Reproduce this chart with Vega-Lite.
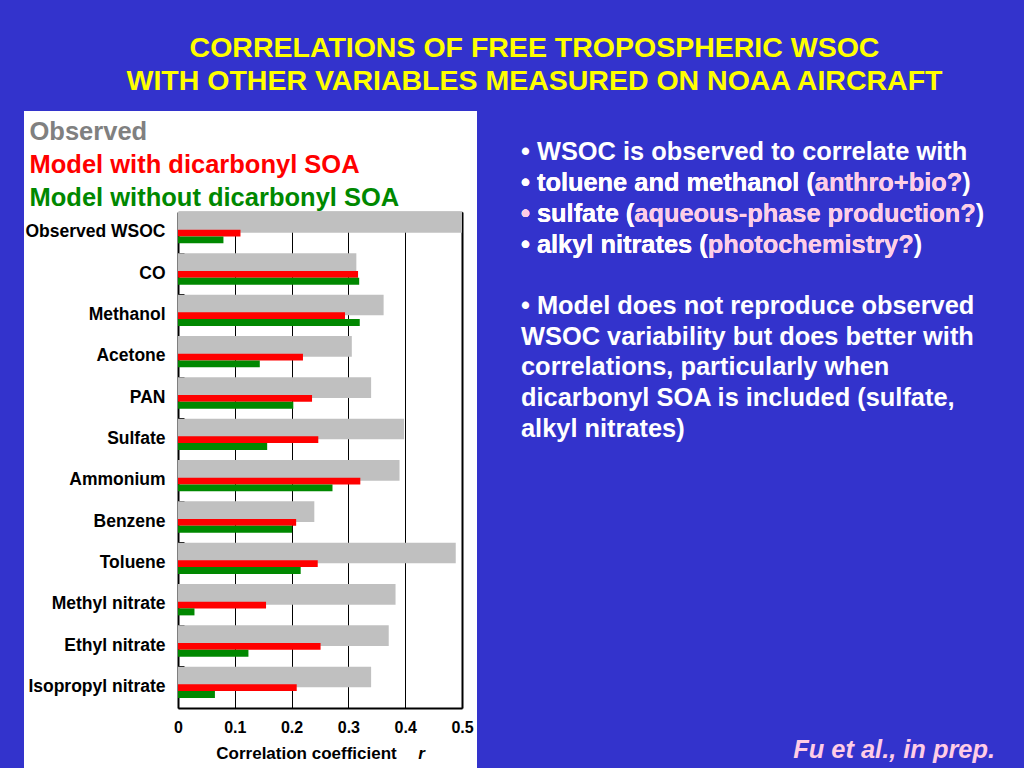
{
  "$schema": "https://vega.github.io/schema/vega-lite/v6.json",
  "background": "#3333cc",
  "padding": {"left": 24, "top": 33, "right": 29, "bottom": 0},
  "title": {
    "text": ["CORRELATIONS OF FREE TROPOSPHERIC WSOC", "WITH OTHER VARIABLES MEASURED ON NOAA AIRCRAFT"],
    "font": "Liberation Sans",
    "fontSize": 28.5,
    "fontWeight": "bold",
    "color": "#ffff00",
    "lineHeight": 33,
    "anchor": "middle",
    "dx": 25,
    "offset": 16
  },
  "spacing": 44,
  "resolve": {"scale": {"color": "independent"}, "legend": {"color": "independent"}},
  "hconcat": [
    {
      "width": 453,
      "height": 658,
      "view": {"fill": "white", "stroke": null},
      "data": {
        "values": [
          {"variable": "Observed WSOC", "series": "Observed", "r": 1.0},
          {"variable": "Observed WSOC", "series": "Model with dicarbonyl SOA", "r": 0.11},
          {"variable": "Observed WSOC", "series": "Model without dicarbonyl SOA", "r": 0.08},
          {"variable": "CO", "series": "Observed", "r": 0.314},
          {"variable": "CO", "series": "Model with dicarbonyl SOA", "r": 0.317},
          {"variable": "CO", "series": "Model without dicarbonyl SOA", "r": 0.319},
          {"variable": "Methanol", "series": "Observed", "r": 0.362},
          {"variable": "Methanol", "series": "Model with dicarbonyl SOA", "r": 0.294},
          {"variable": "Methanol", "series": "Model without dicarbonyl SOA", "r": 0.32},
          {"variable": "Acetone", "series": "Observed", "r": 0.306},
          {"variable": "Acetone", "series": "Model with dicarbonyl SOA", "r": 0.22},
          {"variable": "Acetone", "series": "Model without dicarbonyl SOA", "r": 0.144},
          {"variable": "PAN", "series": "Observed", "r": 0.34},
          {"variable": "PAN", "series": "Model with dicarbonyl SOA", "r": 0.236},
          {"variable": "PAN", "series": "Model without dicarbonyl SOA", "r": 0.203},
          {"variable": "Sulfate", "series": "Observed", "r": 0.398},
          {"variable": "Sulfate", "series": "Model with dicarbonyl SOA", "r": 0.247},
          {"variable": "Sulfate", "series": "Model without dicarbonyl SOA", "r": 0.157},
          {"variable": "Ammonium", "series": "Observed", "r": 0.39},
          {"variable": "Ammonium", "series": "Model with dicarbonyl SOA", "r": 0.321},
          {"variable": "Ammonium", "series": "Model without dicarbonyl SOA", "r": 0.272},
          {"variable": "Benzene", "series": "Observed", "r": 0.24},
          {"variable": "Benzene", "series": "Model with dicarbonyl SOA", "r": 0.208},
          {"variable": "Benzene", "series": "Model without dicarbonyl SOA", "r": 0.201},
          {"variable": "Toluene", "series": "Observed", "r": 0.489},
          {"variable": "Toluene", "series": "Model with dicarbonyl SOA", "r": 0.246},
          {"variable": "Toluene", "series": "Model without dicarbonyl SOA", "r": 0.216},
          {"variable": "Methyl nitrate", "series": "Observed", "r": 0.383},
          {"variable": "Methyl nitrate", "series": "Model with dicarbonyl SOA", "r": 0.155},
          {"variable": "Methyl nitrate", "series": "Model without dicarbonyl SOA", "r": 0.029},
          {"variable": "Ethyl nitrate", "series": "Observed", "r": 0.371},
          {"variable": "Ethyl nitrate", "series": "Model with dicarbonyl SOA", "r": 0.251},
          {"variable": "Ethyl nitrate", "series": "Model without dicarbonyl SOA", "r": 0.124},
          {"variable": "Isopropyl nitrate", "series": "Observed", "r": 0.34},
          {"variable": "Isopropyl nitrate", "series": "Model with dicarbonyl SOA", "r": 0.209},
          {"variable": "Isopropyl nitrate", "series": "Model without dicarbonyl SOA", "r": 0.065}
        ]
      },
      "encoding": {
        "color": {
          "field": "series",
          "type": "nominal",
          "scale": {
            "domain": ["Observed", "Model with dicarbonyl SOA", "Model without dicarbonyl SOA"],
            "range": ["#c0c0c0", "#ff0000", "#008800"]
          },
          "legend": {
            "title": null,
            "orient": "top-left",
            "offset": 8,
            "padding": 0,
            "symbolSize": 0,
            "symbolOpacity": 0,
            "symbolStrokeWidth": 0,
            "labelOffset": -28,
            "rowPadding": 6,
            "labelFont": "Liberation Sans",
            "labelFontSize": 25.5,
            "labelFontWeight": "bold",
            "labelLimit": 0,
            "labelColor": {"expr": "datum.label == 'Observed' ? '#808080' : datum.label == 'Model with dicarbonyl SOA' ? '#ff0000' : '#008800'"}
          }
        }
      },
      "layer": [
        {
          "transform": [{"filter": "datum.series == 'Observed'"}],
          "mark": {"type": "bar"},
          "encoding": {
            "x": {
              "field": "r",
              "type": "quantitative",
              "scale": {"domain": [0, 0.5], "range": [154, 438], "clamp": true, "nice": false, "zero": true},
              "axis": {
                "orient": "bottom",
                "offset": -61,
                "values": [0, 0.1, 0.2, 0.3, 0.4, 0.5],
                "format": "~g",
                "labelFont": "Liberation Sans",
                "labelFontSize": 16,
                "labelFontWeight": "bold",
                "labelColor": "#000000",
                "labelPadding": 11,
                "labelFlush": false,
                "ticks": false,
                "domainColor": "#000000",
                "domainWidth": 2,
                "grid": false,
                "title": "Correlation coefficient",
                "titleFont": "Liberation Sans",
                "titleFontSize": 17,
                "titleFontWeight": "bold",
                "titleColor": "#000000",
                "titleX": 282,
                "titleY": 50,
                "titleAlign": "center",
                "titleBaseline": "alphabetic"
              }
            },
            "y": {
              "field": "variable",
              "type": "nominal",
              "sort": null,
              "scale": {
                "type": "band",
                "domain": ["Observed WSOC", "CO", "Methanol", "Acetone", "PAN", "Sulfate", "Ammonium", "Benzene", "Toluene", "Methyl nitrate", "Ethyl nitrate", "Isopropyl nitrate"],
                "range": [101, 597],
                "paddingInner": 0.5,
                "paddingOuter": 0.25,
                "align": 0,
                "round": false
              },
              "axis": {
                "orient": "left",
                "offset": -154,
                "title": null,
                "bandPosition": 0,
                "labelOffset": 10,
                "labelFont": "Liberation Sans",
                "labelFontSize": 17.5,
                "labelFontWeight": "bold",
                "labelColor": "#000000",
                "labelPadding": 19,
                "labelLimit": 0,
                "tickSize": -6,
                "tickColor": "#000000",
                "tickWidth": 1,
                "domainColor": "#000000",
                "domainWidth": 2,
                "grid": false
              }
            }
          }
        },
        {
          "transform": [{"filter": "datum.series == 'Model with dicarbonyl SOA'"}],
          "mark": {"type": "bar"},
          "encoding": {
            "x": {
              "field": "r",
              "type": "quantitative",
              "axis": {
                "orient": "bottom",
                "offset": -61,
                "domain": false,
                "labels": false,
                "ticks": false,
                "grid": false,
                "title": "r",
                "titleFont": "Liberation Sans",
                "titleFontSize": 17,
                "titleFontWeight": "bold",
                "titleFontStyle": "italic",
                "titleColor": "#000000",
                "titleX": 397,
                "titleY": 50,
                "titleAlign": "center",
                "titleBaseline": "alphabetic"
              }
            },
            "y": {
              "field": "variable",
              "type": "nominal",
              "sort": null,
              "scale": {
                "type": "band",
                "domain": ["Observed WSOC", "CO", "Methanol", "Acetone", "PAN", "Sulfate", "Ammonium", "Benzene", "Toluene", "Methyl nitrate", "Ethyl nitrate", "Isopropyl nitrate"],
                "range": [101, 597],
                "paddingInner": 0.838,
                "paddingOuter": 0.419,
                "align": 0.511,
                "round": false
              },
              "axis": {
                "orient": "right",
                "offset": -15,
                "title": null,
                "labels": false,
                "ticks": false,
                "grid": false,
                "domainColor": "#000000",
                "domainWidth": 2
              }
            }
          }
        },
        {
          "transform": [{"filter": "datum.series == 'Model without dicarbonyl SOA'"}],
          "mark": {"type": "bar"},
          "encoding": {
            "x": {
              "field": "r",
              "type": "quantitative",
              "axis": {
                "orient": "top",
                "offset": -101,
                "values": [0, 0.1, 0.2, 0.3, 0.4, 0.5],
                "labels": false,
                "ticks": false,
                "grid": true,
                "gridColor": "#000000",
                "gridWidth": 1,
                "gridOpacity": 1,
                "title": null,
                "domainColor": "#222222",
                "domainWidth": 1.5
              }
            },
            "y": {
              "field": "variable",
              "type": "nominal",
              "sort": null,
              "scale": {
                "type": "band",
                "domain": ["Observed WSOC", "CO", "Methanol", "Acetone", "PAN", "Sulfate", "Ammonium", "Benzene", "Toluene", "Methyl nitrate", "Ethyl nitrate", "Isopropyl nitrate"],
                "range": [101, 597],
                "paddingInner": 0.831,
                "paddingOuter": 0.4155,
                "align": 0.71,
                "round": false
              },
              "axis": null
            }
          }
        }
      ],
      "resolve": {"scale": {"y": "independent"}, "axis": {"x": "independent", "y": "independent"}}
    },
    {
      "width": 474,
      "height": 620,
      "view": {"stroke": null},
      "title": {
        "text": "Fu et al., in prep.",
        "orient": "bottom",
        "anchor": "end",
        "font": "Liberation Sans",
        "fontSize": 25.4,
        "fontWeight": "bold",
        "fontStyle": "italic",
        "color": "#ffcce6",
        "offset": 7
      },
      "data": {
        "values": [
          {"line": 0, "tone": "body", "text": "• WSOC is observed to correlate with"},
          {"line": 1, "tone": "body", "text": "• toluene and methanol (anthro+bio?)"},
          {"line": 1, "tone": "highlight", "text": "• toluene and methanol (anthro+bio?"},
          {"line": 1, "tone": "body", "text": "• toluene and methanol ("},
          {"line": 2, "tone": "body", "text": "• sulfate (aqueous-phase production?)"},
          {"line": 2, "tone": "highlight", "text": "• sulfate (aqueous-phase production?"},
          {"line": 2, "tone": "body", "text": "• sulfate ("},
          {"line": 2, "tone": "highlight", "text": "•"},
          {"line": 3, "tone": "body", "text": "• alkyl nitrates (photochemistry?)"},
          {"line": 3, "tone": "highlight", "text": "• alkyl nitrates (photochemistry?"},
          {"line": 3, "tone": "body", "text": "• alkyl nitrates ("},
          {"line": 5, "tone": "body", "text": "• Model does not reproduce observed"},
          {"line": 6, "tone": "body", "text": "WSOC variability but does better with"},
          {"line": 7, "tone": "body", "text": "correlations, particularly when"},
          {"line": 8, "tone": "body", "text": "dicarbonyl SOA is included (sulfate,"},
          {"line": 9, "tone": "body", "text": "alkyl nitrates)"}
        ]
      },
      "mark": {"type": "text", "align": "left", "baseline": "middle", "font": "Liberation Sans", "fontSize": 25.4, "fontWeight": "bold"},
      "encoding": {
        "x": {"value": 0},
        "y": {"field": "line", "type": "quantitative", "scale": {"domain": [0, 9], "range": [41.3, 317.9], "nice": false, "zero": false}, "axis": null},
        "text": {"field": "text"},
        "color": {"field": "tone", "type": "nominal", "scale": {"domain": ["body", "highlight"], "range": ["#ffffff", "#ffcce6"]}, "legend": null}
      }
    }
  ],
  "config": {"view": {"stroke": null}, "font": "Liberation Sans"}
}
